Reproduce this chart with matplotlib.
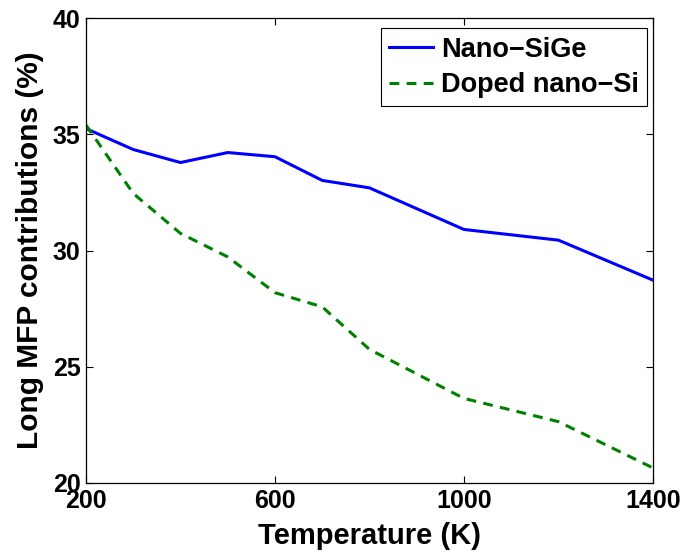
import numpy as np
import matplotlib
matplotlib.use('Agg')
import matplotlib.pyplot as plt

# Long-MFP share of thermal conductivity vs temperature
temps_sige = [200, 300, 400, 500, 600, 700, 800, 1000, 1200, 1400]
long_mfp_sige = [35.25, 34.35, 33.79, 34.22, 34.04, 33.02, 32.70, 30.91, 30.45, 28.73]
temps_si = [200, 300, 400, 500, 600, 700, 800, 1000, 1200, 1400]
long_mfp_si = [35.4, 32.46, 30.74, 29.73, 28.19, 27.58, 25.75, 23.64, 22.64, 20.65]

plt.rcParams['font.family'] = 'Liberation Sans'
plt.rcParams['font.weight'] = 'bold'
plt.rcParams['font.size'] = 18

fig = plt.figure(figsize=(6.88, 5.52), dpi=100)
ax = fig.add_axes([0.125, 0.125, 0.824, 0.842])

ax.plot(temps_sige, long_mfp_sige, color=(0, 0, 1), linewidth=2.2, label='Nano\u2212SiGe')
ax.plot(temps_si, long_mfp_si, color=(0, 0.5, 0), linewidth=2.2, linestyle=(0, (3.2, 2.4)),
        label='Doped nano\u2212Si')

ax.set_xlim(200, 1400)
ax.set_ylim(20, 40)
ax.set_xticks([200, 600, 1000, 1400])
ax.set_yticks([20, 25, 30, 35, 40])
ax.tick_params(direction='in', top=True, right=True, length=5, width=0.8, labelsize=18, pad=4)
for s in ax.spines.values():
    s.set_linewidth(0.9)

ax.set_xlabel('Temperature (K)', fontsize=21, fontweight='bold', labelpad=7)
ax.set_ylabel('Long MFP contributions (%)', fontsize=21.5, fontweight='bold', labelpad=6)

leg = ax.legend(loc='upper right', fontsize=19.5, fancybox=False, edgecolor='black',
                framealpha=1, handlelength=1.6, handletextpad=0.3, borderpad=0.3,
                labelspacing=0.35, borderaxespad=0, bbox_to_anchor=(0.989, 0.978))
leg.get_frame().set_linewidth(0.8)

plt.savefig('out.png', dpi=100)
